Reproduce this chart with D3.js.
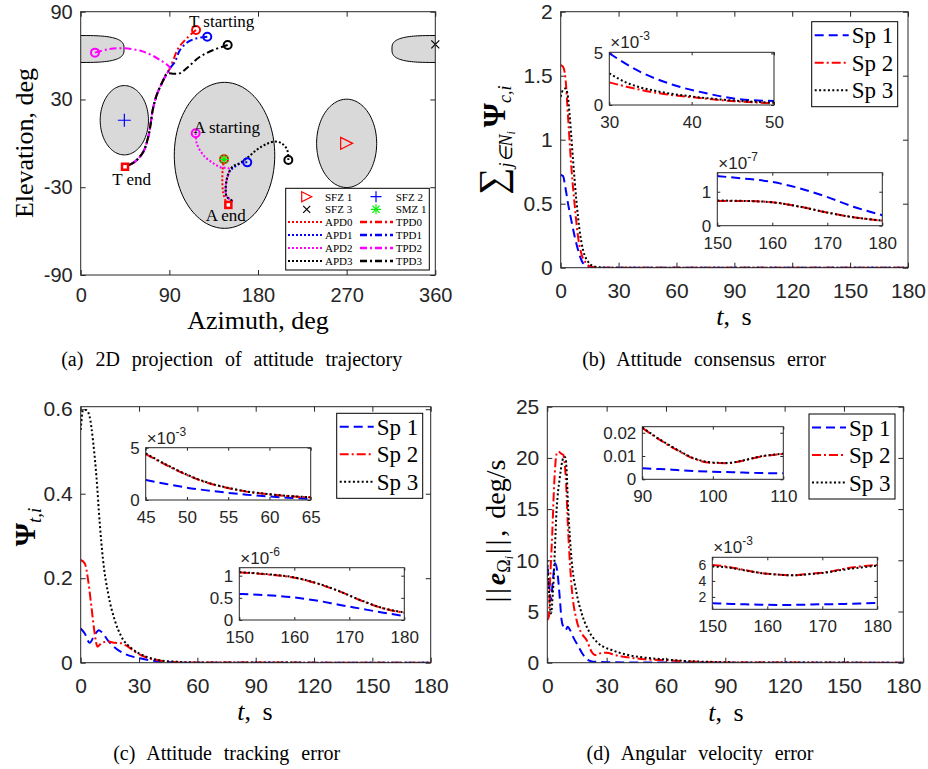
<!DOCTYPE html>
<html lang="en">
<head>
<meta charset="utf-8" />
<script src="https://d3js.org/d3.v7.min.js"></script>
<style>
  body { margin: 0; background: #fff; }
  svg { display: block; }
  .tk text { font-family: "Liberation Sans", Arial, sans-serif; fill: #262626; }
  .serif { font-family: "Liberation Serif", "Times New Roman", serif; fill: #000; }
</style>
</head>
<body>
<svg id="fig" width="928" height="769"></svg>
<script>
// ---------- data: (a) attitude trajectory, azimuth / elevation in deg ----------
const zoneNames = ["SFZ 1", "SFZ 2", "SFZ 3", "SMZ 1"];
const zoneAz = [270, 44.3, 0, 146];
const zoneEl = [0, 15.8, 64.5, -8.2];
const zoneRx = [30.5, 24.5, 44, 51];
const zoneRy = [30.2, 23.7, 9.2, 49.9];

const common = [[90.7,51.3],[87.3,47.5],[83.9,43.3],[77.2,33.1],[73.1,22.8],[71.1,13.7],[68.6,4.5],[63.6,-5.7],[55.1,-12.5],[45,-16]];
const tpd0 = [[117.1,77.5],[107.6,71.8],[99.1,65],[94,57]].concat(common);
const tpd1 = [[128.5,72.9],[117.8,71.8],[109.3,69.5],[100.8,63.8],[95.7,55.8]].concat(common);
const tpd2 = [[14.5,62],[28,64.3],[43.3,65],[63.6,62.7],[80.5,57]].concat(common);
const tpd3 = [[149.2,67.2],[134.6,63.8],[121.1,59.2],[109.3,52.4],[101,48],[95,47.6]].concat(common.slice(1));

const bundle = [[154.9,-15.5],[150.9,-19.3],[148.2,-25],[147.2,-31.9],[148.2,-36.4],[153.3,-39.4],[149.9,-42.1]];
const apd0 = [[145.5,-10.9],[144.1,-18.2],[143.8,-26.2],[144.8,-34.2],[147.5,-39.8],[149.9,-42.1]];
const apd1 = [[169.1,-13],[163.4,-13.2],[156.6,-15.9]].concat(bundle.slice(1));
const apd2 = [[116.7,6.9],[117.8,0],[124.5,-8],[134.6,-13.6],[143.1,-16.6],[150,-17]].concat(bundle.slice(1));
const apd3 = [[210.8,-11.4],[209.7,-4.5],[204,0],[197.2,1.2],[188.8,-0.4],[178.6,-4.5],[168.5,-10.2],[160,-14.1]].concat(bundle);

const azTicks = [0, 90, 180, 270, 360];
const elTicks = [-90, -30, 30, 90];

// ---------- data: (b) attitude consensus error ----------
const bT1 = [0,1.2,2.4,3.8,5.5,7.3,9,10.7,12.4,14.5,17,22,180];
const bV1 = [0.724,0.716,0.63,0.5,0.37,0.24,0.138,0.06,0.02,0.006,0.002,0,0];
const bT2 = [0,1.2,2.4,3.8,5.5,7.3,9,10.7,13.3,15.9,19,24,180];
const bV2 = [1.583,1.57,1.49,1.18,0.79,0.48,0.24,0.11,0.034,0.008,0.002,0,0];
const bT3 = [0,1.2,2.4,3.5,4.7,6.4,8.1,9.8,11.6,14.2,16.8,20,25,180];
const bV3 = [1.336,1.39,1.4,1.36,1.18,0.84,0.53,0.29,0.138,0.047,0.013,0.003,0,0];
// inset 1, x1e-3
const b1T1 = [30,33.7,37.8,41.8,45.9,50];
const b1V1 = [5,3.23,1.94,1.13,0.55,0.39];
const b1T23 = [30,32.1,36.1,40.2,44.3,50];
const b1V2 = [2.19,1.77,1.13,0.74,0.42,0.16];
const b1V3 = [3.06,2.16,1.29,0.81,0.48,0.23];
// inset 2, x1e-7
const b2T = [150,154.7,159.9,165,169.9,174.7,180];
const b2V1 = [1.46,1.39,1.29,1.1,0.85,0.56,0.31];
const b2V2 = [0.73,0.73,0.69,0.56,0.39,0.25,0.15];
const b2V3 = [0.74,0.73,0.69,0.56,0.39,0.25,0.15];

// ---------- data: (c) attitude tracking error ----------
const cT1 = [0,2.1,4.6,7.2,9.3,11.5,14.1,17.5,22.6,27.8,32.9,39.8,46,55,180];
const cV1 = [0.081,0.069,0.047,0.066,0.077,0.069,0.052,0.036,0.021,0.013,0.008,0.003,0.001,0,0];
const cT2 = [0,2.1,3.8,5.5,7.2,8.6,10.6,14.1,17.5,20.9,24.3,28.6,32.9,39.8,46,55,180];
const cV2 = [0.243,0.235,0.196,0.133,0.069,0.038,0.046,0.05,0.047,0.046,0.038,0.024,0.014,0.006,0.002,0.0005,0];
const cT3 = [0,1.2,2.9,4.6,6.3,8.1,9.8,11.5,14.1,17.5,20.9,26.1,32.9,41.5,50,60,180];
const cV3 = [0.551,0.598,0.598,0.582,0.527,0.44,0.33,0.243,0.164,0.101,0.062,0.034,0.016,0.005,0.002,0.0005,0];
// inset 1, x1e-3
const c1T = [45,47.5,50,52.4,54.8,57.2,59.7,62.1,65];
const c1V1 = [1.91,1.53,1.18,0.92,0.7,0.51,0.35,0.22,0.1];
const c1V2 = [4.39,3.34,2.39,1.66,1.18,0.8,0.57,0.38,0.25];
const c1V3 = [4.45,3.38,2.42,1.69,1.2,0.82,0.58,0.4,0.27];
// inset 2, x1e-6
const c2T = [150,155,159.8,164,168.3,171.9,176.2,180];
const c2V1 = [0.586,0.56,0.51,0.44,0.34,0.26,0.165,0.09];
const c2V2 = [1.075,1.03,0.96,0.83,0.64,0.45,0.26,0.165];
const c2V3 = [1.08,1.035,0.965,0.835,0.645,0.455,0.265,0.17];

// ---------- data: (d) angular velocity error ----------
const dT1 = [0,1,1.8,2.8,3.9,5.2,6.4,7.2,8.1,9.3,10.3,11.5,13.1,15.7,18.2,20.7,23.3,30,60,180];
const dV1 = [9.4,7.4,6.1,8,9.7,8.7,6.1,4.2,3.5,3.2,3.5,3.2,2.5,1.6,0.75,0.26,0.1,0.05,0.01,0];
const dT2 = [0,0.8,1.3,2.5,3.5,4.7,5.6,7.2,8.1,9.3,10.6,12.3,14.8,17.4,19.9,22.4,24.1,26.6,30,34.2,40.9,49.4,57,70.5,85,100,180];
const dV2 = [4.17,4.5,7.4,12.6,17.5,20.4,20.6,20.4,20.3,18.2,12.6,7.4,4.17,2.86,2.2,1.07,0.75,0.91,0.98,0.75,0.52,0.33,0.26,0.13,0.04,0.01,0.005];
const dT3 = [0,0.8,1.8,3,4.7,6.4,8.1,8.9,9.4,10.6,12.3,14.8,17.4,20.7,25.8,32.5,40.9,49.4,57,70.5,85,100,180];
const dV3 = [10,7.2,4.8,7.4,14.9,18.2,20,20.1,19.8,14.9,10,6.8,4.8,3.2,1.9,1.24,0.75,0.49,0.36,0.16,0.07,0.02,0.005];
// inset 1 (plain)
const d1T = [90,92.5,94.9,97.2,99.6,102,104.3,106.7,110];
const d1V1 = [0.0047,0.0044,0.004,0.0036,0.0033,0.0031,0.0029,0.0027,0.0026];
const d1V2 = [0.0221,0.0169,0.0126,0.009,0.0071,0.0069,0.008,0.0097,0.0109];
const d1V3 = [0.0223,0.0171,0.0128,0.0092,0.0073,0.007,0.0081,0.0098,0.011];
// inset 2, x1e-3
const d2T = [150,152.6,155.6,158.7,161.7,164.7,167.8,170.8,173.8,176.8,180];
const d2V1 = [1.21,1.15,1.08,1.03,1,1,1.05,1.08,1.12,1.17,1.25];
const d2V2 = [6,5.8,5.4,5,4.8,4.7,4.9,5.1,5.5,5.8,6];
const d2V3 = [5.8,5.7,5.35,5,4.8,4.7,4.85,5.05,5.4,5.65,5.9];

const tTicks = [0, 30, 60, 90, 120, 150, 180];
const spNames = ["Sp 1", "Sp 2", "Sp 3"];
const spColor = ["#0000ff", "#ff0000", "#000000"];
const spDash = ["9,5", "9,3,2,3", "2,2.4"];
const pdColor = ["#ff0000", "#0000ff", "#ff00ff", "#000000"];

// ---------- drawing ----------
const svg = d3.select("#fig");
const AXC = "#262626";
let clipN = 0;

function makeAxes(r, xd, yd, xt, yt, o) {
  const g = svg.append("g");
  const x = d3.scaleLinear(xd, [r.x0, r.x1]);
  const y = d3.scaleLinear(yd, [r.y1, r.y0]);
  const tl = o.tl, fs = o.fs, yfs = o.yfs || o.fs;
  const fmt = o.fmt || (d => String(d));
  g.append("rect").attr("x", r.x0).attr("y", r.y0)
    .attr("width", r.x1 - r.x0).attr("height", r.y1 - r.y0).attr("fill", "#fff");
  const axes = [
    [d3.axisBottom(x).tickFormat(fmt).tickPadding(o.xpad), `translate(0,${r.y1})`],
    [d3.axisTop(x).tickFormat(""), `translate(0,${r.y0})`],
    [d3.axisLeft(y).tickFormat(fmt).tickPadding(o.ypad), `translate(${r.x0},0)`],
    [d3.axisRight(y).tickFormat(""), `translate(${r.x1},0)`]
  ];
  axes.forEach(([a, tr], i) => {
    a.tickValues(i < 2 ? xt : yt).tickSizeInner(-tl).tickSizeOuter(0);
    const ag = g.append("g").attr("class", "tk").attr("transform", tr).call(a);
    ag.select(".domain").remove();
    ag.selectAll("line").attr("stroke", AXC);
    ag.selectAll("text").attr("font-size", i < 2 ? fs : yfs).attr("font-family", null);
  });
  const id = "clip" + (clipN++);
  svg.append("clipPath").attr("id", id).append("rect")
    .attr("x", r.x0).attr("y", r.y0).attr("width", r.x1 - r.x0).attr("height", r.y1 - r.y0);
  const plot = g.append("g").attr("clip-path", `url(#${id})`);
  const box = () => g.append("rect").attr("x", r.x0).attr("y", r.y0)
    .attr("width", r.x1 - r.x0).attr("height", r.y1 - r.y0)
    .attr("fill", "none").attr("stroke", AXC).attr("stroke-width", 1);
  return { g, x, y, plot, box, r };
}

function series(ax, t, v, k, w) {
  const pts = t.map((d, i) => [d, v[i]]);
  ax.plot.append("path").datum(pts)
    .attr("d", d3.line().x(d => ax.x(d[0])).y(d => ax.y(d[1])).curve(d3.curveMonotoneX))
    .attr("fill", "none").attr("stroke", spColor[k]).attr("stroke-width", w || 2)
    .attr("stroke-dasharray", spDash[k]);
}

function expLabel(ax, e) {
  const t = ax.g.append("text").attr("class", "tk")
    .attr("x", ax.r.x0 + 1).attr("y", ax.r.y0 - 4)
    .attr("font-family", "Liberation Sans, Arial, sans-serif").attr("font-size", 17).attr("fill", AXC);
  t.append("tspan").text("\u00d710");
  t.append("tspan").attr("font-size", 12).attr("dy", -8).text(e);
}

function spLegend(x0, y0) {
  const g = svg.append("g");
  g.append("rect").attr("x", x0).attr("y", y0).attr("width", 86).attr("height", 85)
    .attr("fill", "#fff").attr("stroke", "#000").attr("stroke-width", 1);
  spNames.forEach((n, k) => {
    const yy = y0 + 13.5 + k * 27.5;
    g.append("line").attr("x1", x0 + 3).attr("x2", x0 + 37).attr("y1", yy).attr("y2", yy)
      .attr("stroke", spColor[k]).attr("stroke-width", 2).attr("stroke-dasharray", spDash[k]);
    g.append("text").attr("class", "serif").attr("x", x0 + 40).attr("y", yy + 8)
      .attr("font-size", 23).text(n);
  });
}

function serifText(x, y, s, fs, rot) {
  const t = svg.append("text").attr("class", "serif").attr("font-size", fs)
    .attr("text-anchor", "middle")
    .attr("transform", `translate(${x},${y})` + (rot ? " rotate(-90)" : ""));
  return t;
}

function marker(g, type, cx, cy, s, col) {
  const h = s / 2;
  if (type === "tri") {
    g.append("path").attr("d", `M${cx - h},${cy - h}L${cx + h},${cy}L${cx - h},${cy + h}Z`)
      .attr("fill", "none").attr("stroke", col).attr("stroke-width", 1.2);
  } else if (type === "plus" || type === "star") {
    g.append("path").attr("d", `M${cx - h},${cy}H${cx + h}M${cx},${cy - h}V${cy + h}`)
      .attr("stroke", col).attr("stroke-width", 1.2);
  }
  if (type === "cross" || type === "star") {
    const q = type === "star" ? h * 0.72 : h;
    g.append("path").attr("d", `M${cx - q},${cy - q}L${cx + q},${cy + q}M${cx - q},${cy + q}L${cx + q},${cy - q}`)
      .attr("stroke", col).attr("stroke-width", 1.2);
  }
  if (type === "circle") {
    g.append("circle").attr("cx", cx).attr("cy", cy).attr("r", h)
      .attr("fill", "none").attr("stroke", col).attr("stroke-width", 2);
  }
  if (type === "square") {
    g.append("rect").attr("x", cx - h).attr("y", cy - h).attr("width", s).attr("height", s)
      .attr("fill", "#fff").attr("stroke", col).attr("stroke-width", 2.5);
  }
}

// ===== (a) =====
const A = makeAxes({ x0: 80.7, x1: 435.3, y0: 11.7, y1: 275 }, [0, 360], [-90, 90], azTicks, elTicks,
  { tl: 5, fs: 20, xpad: 13, ypad: 8 });
function zonePath(i, az0) {
  const n = i === 2 ? 3 : 2, pts = [];
  for (let k = 0; k <= 120; k++) {
    const th = k / 120 * 2 * Math.PI, c = Math.cos(th), s = Math.sin(th);
    const px = Math.sign(c) * Math.pow(Math.abs(c), 2 / n), py = Math.sign(s) * Math.pow(Math.abs(s), 2 / n);
    pts.push([az0 + zoneRx[i] * px, zoneEl[i] + zoneRy[i] * py]);
  }
  return d3.line().x(d => A.x(d[0])).y(d => A.y(d[1]))(pts) + "Z";
}
[[0, zoneAz[0]], [1, zoneAz[1]], [2, 0], [2, 360], [3, zoneAz[3]]].forEach(([i, az]) => {
  A.plot.append("path").attr("d", zonePath(i, az)).attr("fill", "#d9d9d9")
    .attr("stroke", "#000").attr("stroke-width", 1);
});
const trajLine = d3.line().x(d => A.x(d[0])).y(d => A.y(d[1])).curve(d3.curveCatmullRom);
[tpd0, tpd1, tpd2, tpd3].forEach((p, k) => {
  A.plot.append("path").attr("d", trajLine(p)).attr("fill", "none").attr("stroke", pdColor[k])
    .attr("stroke-width", 2).attr("stroke-dasharray", "7,3,2,3");
});
[apd0, apd1, apd2, apd3].forEach((p, k) => {
  A.plot.append("path").attr("d", trajLine(p)).attr("fill", "none").attr("stroke", pdColor[k])
    .attr("stroke-width", 2).attr("stroke-dasharray", "2,2");
});
[tpd0, tpd1, tpd2, tpd3, apd0, apd1, apd2, apd3].forEach((p, k) => {
  marker(A.plot, "circle", A.x(p[0][0]), A.y(p[0][1]), 8, pdColor[k % 4]);
});
marker(A.plot, "square", A.x(45), A.y(-16), 6, "#ff0000");
marker(A.plot, "square", A.x(149.9), A.y(-42.1), 6, "#ff0000");
marker(A.plot, "tri", A.x(zoneAz[0]), A.y(zoneEl[0]), 12, "#ff0000");
marker(A.plot, "plus", A.x(zoneAz[1]), A.y(zoneEl[1]), 13, "#0000ff");
marker(A.g, "cross", A.x(360), A.y(67.7), 8, "#000");
marker(A.plot, "star", A.x(145.5), A.y(-10.9), 10, "#00ee00");
A.box();
[["T starting", 221.7, 27], ["T end", 131.7, 185], ["A starting", 226.7, 133], ["A end", 225.7, 221]]
  .forEach(([s, x, y]) => svg.append("text").attr("class", "serif").attr("x", x).attr("y", y)
    .attr("text-anchor", "middle").attr("font-size", 17).text(s));
// legend (a)
{
  const lg = svg.append("g"), x0 = 285.7, y0 = 188.3;
  lg.append("rect").attr("x", x0).attr("y", y0).attr("width", 143.6).attr("height", 81.7)
    .attr("fill", "#fff").attr("stroke", "#000").attr("stroke-width", 1);
  const rows = [196.7, 209.3, 222, 235, 248, 261];
  const txt = (s, x, y) => lg.append("text").attr("class", "serif").attr("x", x).attr("y", y + 4)
    .attr("font-size", 11).text(s);
  marker(lg, "tri", 306.7, rows[0], 10, "#ff0000"); txt(zoneNames[0], 325, rows[0]);
  marker(lg, "plus", 376, rows[0], 11, "#0000ff"); txt(zoneNames[1], 395.7, rows[0]);
  marker(lg, "cross", 306.7, rows[1], 7, "#000"); txt(zoneNames[2], 325, rows[1]);
  marker(lg, "star", 376, rows[1], 10, "#00ee00"); txt(zoneNames[3], 395.7, rows[1]);
  for (let k = 0; k < 4; k++) {
    const yy = rows[2 + k];
    lg.append("line").attr("x1", 288).attr("x2", 322).attr("y1", yy).attr("y2", yy)
      .attr("stroke", pdColor[k]).attr("stroke-width", 2).attr("stroke-dasharray", "2,2");
    txt("APD" + k, 325, yy);
    lg.append("line").attr("x1", 360).attr("x2", 393).attr("y1", yy).attr("y2", yy)
      .attr("stroke", pdColor[k]).attr("stroke-width", 2.5).attr("stroke-dasharray", "7,3,2,3");
    txt("TPD" + k, 395.7, yy);
  }
}
serifText(258, 329, "", 26).text("Azimuth, deg");
serifText(33, 143, "", 26, true).text("Elevation, deg");

// ===== (b) =====
const B = makeAxes({ x0: 560.7, x1: 908, y0: 11.7, y1: 267.7 }, [0, 180], [0, 2], tTicks, [0, 0.5, 1, 1.5, 2],
  { tl: 5, fs: 21, xpad: 15, ypad: 8 });
series(B, bT1, bV1, 0); series(B, bT2, bV2, 1); series(B, bT3, bV3, 2);
B.box();
const B1 = makeAxes({ x0: 609.3, x1: 774, y0: 52.3, y1: 105 }, [30, 50], [0, 5.1], [30, 40, 50], [0, 5],
  { tl: 3, fs: 17, xpad: 11, ypad: 6 });
series(B1, b1T1, b1V1, 0); series(B1, b1T23, b1V2, 1); series(B1, b1T23, b1V3, 2);
B1.box(); expLabel(B1, "-3");
const B2 = makeAxes({ x0: 717.3, x1: 882.3, y0: 172.7, y1: 225.7 }, [150, 180], [0, 1.56], [150, 160, 170, 180], [0, 1],
  { tl: 3, fs: 17, xpad: 11, ypad: 6 });
series(B2, b2T, b2V1, 0); series(B2, b2T, b2V2, 1); series(B2, b2T, b2V3, 2);
B2.box(); expLabel(B2, "-7");
spLegend(811.7, 21.7);

// ===== (c) =====
const C = makeAxes({ x0: 80.7, x1: 430.7, y0: 406.7, y1: 662.7 }, [0, 180], [0, 0.606], tTicks, [0, 0.2, 0.4, 0.6],
  { tl: 5, fs: 21, xpad: 15, ypad: 8 });
series(C, cT1, cV1, 0); series(C, cT2, cV2, 1); series(C, cT3, cV3, 2);
C.box();
const C1 = makeAxes({ x0: 145.7, x1: 310.7, y0: 447.7, y1: 500 }, [45, 65], [0, 5], [45, 50, 55, 60, 65], [0, 5],
  { tl: 3, fs: 17, xpad: 11, ypad: 6 });
series(C1, c1T, c1V1, 0); series(C1, c1T, c1V2, 1); series(C1, c1T, c1V3, 2);
C1.box(); expLabel(C1, "-3");
const C2 = makeAxes({ x0: 239.3, x1: 404.3, y0: 567.7, y1: 620 }, [150, 180], [0, 1.18], [150, 160, 170, 180], [0, 0.5, 1],
  { tl: 3, fs: 17, xpad: 11, ypad: 6 });
series(C2, c2T, c2V1, 0); series(C2, c2T, c2V2, 1); series(C2, c2T, c2V3, 2);
C2.box(); expLabel(C2, "-6");
spLegend(336.7, 413.3);

// ===== (d) =====
const D = makeAxes({ x0: 547.3, x1: 903.3, y0: 406.7, y1: 662.7 }, [0, 180], [0, 25], tTicks, [0, 5, 10, 15, 20, 25],
  { tl: 5, fs: 21, xpad: 15, ypad: 8 });
series(D, dT1, dV1, 0); series(D, dT2, dV2, 1); series(D, dT3, dV3, 2);
D.box();
const D1 = makeAxes({ x0: 642.3, x1: 783.3, y0: 426.7, y1: 479.3 }, [90, 110], [0, 0.0226], [90, 100, 110], [0, 0.01, 0.02],
  { tl: 3, fs: 17, xpad: 11, ypad: 6 });
series(D1, d1T, d1V1, 0); series(D1, d1T, d1V2, 1); series(D1, d1T, d1V3, 2);
D1.box();
const D2 = makeAxes({ x0: 712.3, x1: 877.3, y0: 557.3, y1: 609.3 }, [150, 180], [0.45, 6.95], [150, 160, 170, 180], [2, 4, 6],
  { tl: 3, fs: 17, yfs: 14, xpad: 11, ypad: 6 });
series(D2, d2T, d2V1, 0); series(D2, d2T, d2V2, 1); series(D2, d2T, d2V3, 2);
D2.box(); expLabel(D2, "-3");
spLegend(809, 414);

// ---------- axis labels with math ----------
function tLabel(x, y) {
  const t = serifText(x, y, "", 26).attr("word-spacing", 5);
  t.append("tspan").attr("font-style", "italic").text("t");
  t.append("tspan").text(", s");
}
tLabel(734, 325); tLabel(255, 720); tLabel(726, 721);

{
  const t = serifText(505, 140, "", 26, true);
  t.append("tspan").attr("font-size", 38).text("\u2211");
  t.append("tspan").attr("font-size", 18).attr("font-style", "italic").attr("dy", 7).text("j\u2208N");
  t.append("tspan").attr("font-size", 12).attr("font-style", "italic").attr("dy", 3).text("i");
  t.append("tspan").attr("font-size", 31).attr("font-weight", "bold").attr("dy", -10).attr("dx", 4).text("\u03a8");
  t.append("tspan").attr("font-size", 18).attr("font-style", "italic").attr("dy", 6).text("c,i");
}
{
  const t = serifText(35, 527, "", 30, true);
  t.append("tspan").attr("font-weight", "bold").text("\u03a8");
  t.append("tspan").attr("font-size", 19).attr("font-style", "italic").attr("dy", 6).text("t,i");
}
{
  const t = serifText(505, 531, "", 28, true);
  t.append("tspan").attr("letter-spacing", 3).text("||");
  t.append("tspan").attr("font-style", "italic").attr("font-weight", "bold").text("e");
  t.append("tspan").attr("font-size", 18).attr("dy", 5).text("\u03a9");
  t.append("tspan").attr("font-size", 12).attr("font-style", "italic").attr("dy", 3).text("i");
  t.append("tspan").attr("dy", -8).attr("dx", 2).attr("letter-spacing", 3).text("||");
  t.append("tspan").attr("word-spacing", 4).text(", deg/s");
}

// ---------- captions ----------
[["(a) 2D projection of attitude trajectory", 231.7, 366], ["(b) Attitude consensus error", 704, 366],
 ["(c) Attitude tracking error", 226.7, 760], ["(d) Angular velocity error", 700, 760]]
  .forEach(([s, x, y]) => svg.append("text").attr("class", "serif").attr("x", x).attr("y", y)
    .attr("text-anchor", "middle").attr("font-size", 20).attr("word-spacing", 7).text(s));
</script>
</body>
</html>
